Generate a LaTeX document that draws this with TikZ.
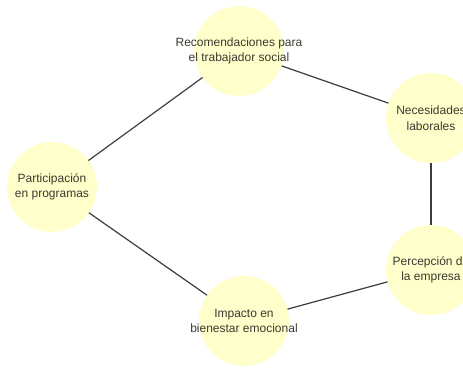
\documentclass[tikz,border=0pt]{standalone}
\usepackage{fontspec}
\setmainfont{Liberation Sans}
\usepackage{tikz}
\usetikzlibrary{positioning}
\definecolor{bubblecolor}{RGB}{255,255,203}
\definecolor{linkcolor}{RGB}{60,60,60}
\definecolor{captioncolor}{RGB}{58,58,48}

\begin{document}
\begin{tikzpicture}[x=1pt, y=-1pt,
    bubble/.style={circle, fill=bubblecolor, minimum size=90pt, inner sep=0pt, outer sep=0pt},
    caption/.style={align=center, text=captioncolor, font=\fontsize{12}{15.5}\selectfont},
    link/.style={linkcolor, line width=1.2pt}
]
    \clip (0,0) rectangle (463,367);
    \useasboundingbox (0,0) rectangle (463,367);

    % === BURBUJAS ===
    \node[bubble, label={[caption]center:Recomendaciones para\\el trabajador social}] (reco) at (239,51) {};
    \node[bubble, label={[caption]center:Necesidades\\laborales}] (necesidades) at (431,118) {};
    \node[bubble, label={[caption]center:Percepción de\\la empresa}] (percepcion) at (431,270) {};
    \node[bubble, label={[caption]center:Impacto en\\bienestar emocional}] (impacto) at (244,321) {};
    \node[bubble, label={[caption]center:Participación\\en programas}] (participacion) at (52,187) {};

    % === CONEXIONES ===
    \draw[link] (reco) -- (necesidades);
    \draw[link] (necesidades) -- (percepcion);
    \draw[link] (percepcion) -- (impacto);
    \draw[link] (impacto) -- (participacion);
    \draw[link] (participacion) -- (reco);

\end{tikzpicture}
\end{document}
